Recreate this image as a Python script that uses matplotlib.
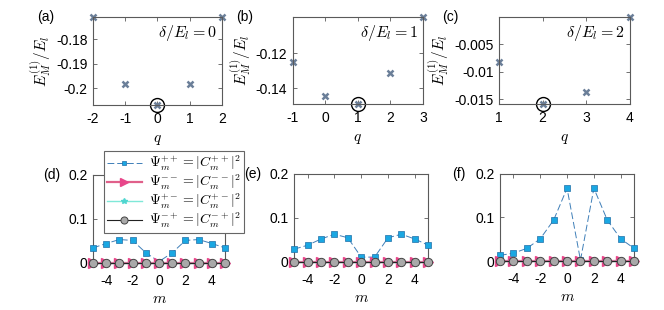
import numpy as np
import matplotlib
matplotlib.use("Agg")
import matplotlib.pyplot as plt
from matplotlib.ticker import FormatStrFormatter

plt.rcParams['font.family'] = ['Liberation Sans', 'DejaVu Sans']
plt.rcParams['mathtext.fontset'] = 'cm'
plt.rcParams['axes.unicode_minus'] = False

# top row: first-order energy vs q
q_a = [-2, -1, 0, 1, 2]
E_a = [-0.171, -0.1984, -0.2069, -0.1984, -0.171]
q_b = [-1, 0, 1, 2, 3]
E_b = [-0.1251, -0.1444, -0.149, -0.1314, -0.0994]
q_c = [1, 2, 3, 4]
E_c = [-0.0082, -0.0159, -0.0137, -0.0001]
deltas = [0, 1, 2]

# bottom row: weights vs m
m = np.arange(-5, 6)
psi_pp_d = [0.034, 0.044, 0.053, 0.051, 0.023, 0.003, 0.023, 0.051, 0.053, 0.044, 0.034]
psi_pp_e = [0.029, 0.038, 0.052, 0.063, 0.055, 0.011, 0.011, 0.055, 0.063, 0.052, 0.038]
psi_pp_f = [0.013, 0.018, 0.029, 0.051, 0.094, 0.167, 0.002, 0.167, 0.094, 0.051, 0.029]
psi_mm = [0.0] * 11
psi_pm = [0.0] * 11
psi_mp = [0.0] * 11

fig = plt.figure(figsize=(6.64, 3.10), dpi=100)

ax_col = '#5a5a5a'
tick_fs = 10

def style(ax, xpad):
    for s in ax.spines.values():
        s.set_color(ax_col)
        s.set_linewidth(0.8)
    ax.tick_params(direction='in', length=3, width=0.6, color=ax_col,
                   labelsize=tick_fs, top=True, right=True, pad=4)
    ax.tick_params(axis='x', pad=xpad)

top_pos = [[0.140, 0.661, 0.194, 0.284],
           [0.441, 0.664, 0.196, 0.281],
           [0.7515, 0.664, 0.197, 0.281]]
top_q = [q_a, q_b, q_c]
top_E = [E_a, E_b, E_c]
top_yt = [[-0.2, -0.19, -0.18], [-0.14, -0.12], [-0.015, -0.01, -0.005]]
labels_top = ['(a)', '(b)', '(c)']

for i in range(3):
    ax = fig.add_axes(top_pos[i])
    q = top_q[i]
    E = top_E[i]
    ax.plot(q, E, 'x', color='#6b7f99', ms=4.5, mew=1.8, clip_on=False)
    k = int(np.argmin(E))
    ax.plot(q[k], E[k], 'o', mfc='none', mec='black', ms=10, mew=1.0, clip_on=False)
    ax.set_xlim(min(q), max(q))
    ax.set_ylim(min(E), max(E))
    ax.set_xticks(q)
    ax.set_yticks(top_yt[i])
    ax.yaxis.set_major_formatter(FormatStrFormatter('%g'))
    style(ax, 5)
    ax.set_xlabel(r'$q$', fontsize=11, labelpad=5)
    ax.set_ylabel(r'$E_M^{(1)}/E_l$', fontsize=11, labelpad=2)
    ax.text(0.96, 0.82, r'$\delta/E_l = %d$' % deltas[i], transform=ax.transAxes,
            ha='right', va='center', fontsize=11.5)
    ax.text(-0.37, 1.0, labels_top[i], transform=ax.transAxes, ha='center',
            va='center', fontsize=10)

bot_pos = [[0.140, 0.152, 0.199, 0.284],
           [0.443, 0.155, 0.202, 0.284],
           [0.753, 0.158, 0.202, 0.281]]
bot_pp = [psi_pp_d, psi_pp_e, psi_pp_f]
labels_bot = ['(d)', '(e)', '(f)']
handles = []

for i in range(3):
    ax = fig.add_axes(bot_pos[i])
    h1, = ax.plot(m, bot_pp[i], color='#3f7fb8', lw=0.7, ls=(0, (7, 3)),
                  marker='s', ms=4, mfc='#1aa7e2', mec='#1f6fa8', mew=0.5,
                  clip_on=False, zorder=3)
    h2, = ax.plot(m, psi_mm, color='#e0608a', lw=1.6, marker='>', ms=7,
                  mfc='#e8468a', mec='#e8468a', clip_on=False, zorder=4)
    h3, = ax.plot(m, psi_pm, color='#7fe8d8', lw=1.0, marker='*', ms=5,
                  mfc='#4fd6d0', mec='#4fd6d0', clip_on=False, zorder=5)
    h4, = ax.plot(m, psi_mp, color='#222222', lw=0.8, marker='o', ms=6,
                  mfc='#a9a9a9', mec='#444444', mew=0.7, clip_on=False, zorder=6)
    handles = [h1, h2, h3, h4]
    ax.set_xlim(-5, 5)
    ax.set_ylim(0, 0.2)
    ax.set_xticks([-4, -2, 0, 2, 4])
    ax.set_yticks([0, 0.1, 0.2])
    ax.yaxis.set_major_formatter(FormatStrFormatter('%g'))
    style(ax, 8)
    ax.set_xlabel(r'$m$', fontsize=11, labelpad=3)
    ax.text(-0.31, 1.0, labels_bot[i], transform=ax.transAxes, ha='center',
            va='center', fontsize=10)

leg = fig.legend(handles,
                 [r'$\Psi_m^{++} = |C_m^{++}|^2$', r'$\Psi_m^{--} = |C_m^{--}|^2$',
                  r'$\Psi_m^{+-} = |C_m^{+-}|^2$', r'$\Psi_m^{-+} = |C_m^{-+}|^2$'],
                 loc='upper left', bbox_to_anchor=(0.157, 0.513), fontsize=10,
                 fancybox=False, framealpha=1, edgecolor='#666666',
                 handlelength=2.5, handletextpad=0.5, borderpad=0.2,
                 labelspacing=0.0, borderaxespad=0, markerscale=0.85)
leg.get_frame().set_linewidth(0.8)
leg.set_zorder(10)

fig.savefig('out.png', dpi=100)
